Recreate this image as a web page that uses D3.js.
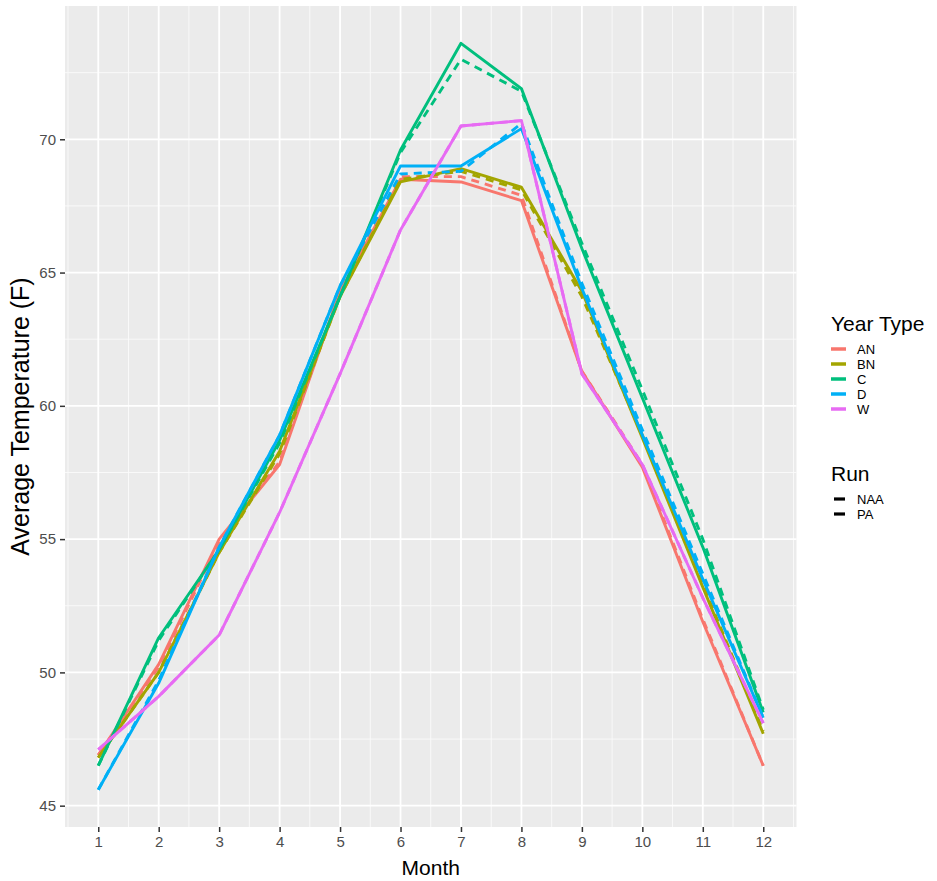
<!DOCTYPE html>
<html>
<head>
<meta charset="utf-8">
<script src="https://cdn.jsdelivr.net/npm/d3@7/dist/d3.min.js"></script>
<style>
  html, body { margin: 0; padding: 0; background: #ffffff; }
  svg { display: block; font-family: "Liberation Sans", Arial, Helvetica, sans-serif; }
</style>
</head>
<body>
<svg id="chart" width="937" height="881"></svg>
<script>
// ---- data ----
const months = [1, 2, 3, 4, 5, 6, 7, 8, 9, 10, 11, 12];
const yearTypes = ["AN", "BN", "C", "D", "W"];
const runs = ["NAA", "PA"];
const yTicks = [45, 50, 55, 60, 65, 70];

const anNAA = [46.9, 50.3, 55.0, 57.8, 64.3, 68.5, 68.4, 67.7, 61.3, 57.7, 51.9, 46.5];
const anPA  = [46.9, 50.2, 54.9, 57.9, 64.3, 68.6, 68.6, 67.9, 61.3, 57.8, 52.0, 46.5];
const bnNAA = [46.8, 50.0, 54.5, 58.3, 64.1, 68.4, 68.9, 68.2, 64.3, 58.8, 53.2, 47.7];
const bnPA  = [46.8, 50.0, 54.5, 58.2, 64.1, 68.5, 68.8, 68.1, 64.1, 58.9, 53.3, 47.8];
const cNAA  = [46.5, 51.3, 54.6, 58.7, 64.1, 69.6, 73.6, 71.9, 65.9, 60.3, 54.7, 48.5];
const cPA   = [46.5, 51.2, 54.6, 58.6, 64.1, 69.5, 73.0, 71.8, 66.1, 60.6, 55.0, 48.6];
const dNAA  = [45.6, 49.6, 54.7, 58.9, 64.5, 69.0, 69.0, 70.4, 64.4, 58.9, 53.5, 48.3];
const dPA   = [45.6, 49.7, 54.7, 58.9, 64.5, 68.7, 68.8, 70.6, 64.6, 59.1, 53.7, 48.3];
const wNAA  = [47.1, 49.1, 51.4, 56.0, 61.2, 66.6, 70.5, 70.7, 61.2, 57.8, 52.8, 48.1];
const wPA   = [47.1, 49.1, 51.4, 56.0, 61.2, 66.6, 70.5, 70.7, 61.2, 57.8, 52.8, 48.1];

const colors = ["#F8766D", "#A3A500", "#00BF7D", "#00B0F6", "#E76BF3"];

const seriesData = [
  { type: "AN", run: "NAA", values: anNAA }, { type: "AN", run: "PA", values: anPA },
  { type: "BN", run: "NAA", values: bnNAA }, { type: "BN", run: "PA", values: bnPA },
  { type: "C",  run: "NAA", values: cNAA  }, { type: "C",  run: "PA", values: cPA  },
  { type: "D",  run: "NAA", values: dNAA  }, { type: "D",  run: "PA", values: dPA  },
  { type: "W",  run: "NAA", values: wNAA  }, { type: "W",  run: "PA", values: wPA  }
];

// ---- layout ----
const svg = d3.select("#chart");
const panel = { left: 65, right: 796.5, top: 6, bottom: 827 };

const allVals = seriesData.flatMap(s => s.values);
const [vmin, vmax] = d3.extent(allVals);
const vpad = (vmax - vmin) * 0.05;
const xpad = (d3.max(months) - d3.min(months)) * 0.05;

const x = d3.scaleLinear()
  .domain([d3.min(months) - xpad, d3.max(months) + xpad])
  .range([panel.left, panel.right]);
const y = d3.scaleLinear()
  .domain([vmin - vpad, vmax + vpad])
  .range([panel.bottom, panel.top]);

const color = d3.scaleOrdinal().domain(yearTypes).range(colors);
const dash = d3.scaleOrdinal().domain(runs).range(["none", "8,6"]);

// panel background
svg.append("rect")
  .attr("x", panel.left).attr("y", panel.top)
  .attr("width", panel.right - panel.left)
  .attr("height", panel.bottom - panel.top)
  .attr("fill", "#EBEBEB");

// minor grid
const xMinor = d3.range(0.5, 13, 1).filter(v => v >= x.domain()[0] && v <= x.domain()[1]);
const yMinor = d3.range(42.5, 80, 5).filter(v => v >= y.domain()[0] && v <= y.domain()[1]);
const grid = svg.append("g");
grid.selectAll(".xminor").data(xMinor).join("line")
  .attr("x1", d => x(d)).attr("x2", d => x(d))
  .attr("y1", panel.top).attr("y2", panel.bottom)
  .attr("stroke", "#fafafa").attr("stroke-width", 0.9);
grid.selectAll(".yminor").data(yMinor).join("line")
  .attr("y1", d => y(d)).attr("y2", d => y(d))
  .attr("x1", panel.left).attr("x2", panel.right)
  .attr("stroke", "#fafafa").attr("stroke-width", 0.9);
// major grid
grid.selectAll(".xmajor").data(months).join("line")
  .attr("x1", d => x(d)).attr("x2", d => x(d))
  .attr("y1", panel.top).attr("y2", panel.bottom)
  .attr("stroke", "#ffffff").attr("stroke-width", 1.8);
grid.selectAll(".ymajor").data(yTicks).join("line")
  .attr("y1", d => y(d)).attr("y2", d => y(d))
  .attr("x1", panel.left).attr("x2", panel.right)
  .attr("stroke", "#ffffff").attr("stroke-width", 1.8);

// lines
const line = d3.line().x((d, i) => x(months[i])).y(d => y(d));
svg.append("g").selectAll("path").data(seriesData).join("path")
  .attr("d", d => line(d.values))
  .attr("fill", "none")
  .attr("stroke", d => color(d.type))
  .attr("stroke-width", 2.9)
  .attr("stroke-dasharray", d => dash(d.run))
  .attr("stroke-linejoin", "round");

// axes
const xAxis = svg.append("g")
  .attr("transform", `translate(0,${panel.bottom})`)
  .call(d3.axisBottom(x).tickValues(months).tickSize(5).tickPadding(4).tickFormat(d3.format("d")));
const yAxis = svg.append("g")
  .attr("transform", `translate(${panel.left},0)`)
  .call(d3.axisLeft(y).tickValues(yTicks).tickSize(5).tickPadding(4).tickFormat(d3.format("d")));
[xAxis, yAxis].forEach(a => {
  a.select(".domain").remove();
  a.selectAll(".tick line").attr("stroke", "#333333").attr("stroke-width", 1.5);
  a.selectAll(".tick text").attr("fill", "#4D4D4D").style("font-size", "15px")
    .style("font-family", "'Liberation Sans', Arial, sans-serif");
});

// axis titles
svg.append("text")
  .attr("x", (panel.left + panel.right) / 2).attr("y", 875)
  .attr("text-anchor", "middle").style("font-size", "21px").attr("fill", "#000")
  .text("Month");
svg.append("text")
  .attr("transform", `translate(29,${(panel.top + panel.bottom) / 2}) rotate(-90)`)
  .attr("text-anchor", "middle").style("font-size", "25px").attr("fill", "#000")
  .text("Average Temperature (F)");

// legends
const leg = svg.append("g");
leg.append("text").attr("x", 831).attr("y", 331).style("font-size", "21px").text("Year Type");
const legY = d3.scalePoint().domain(yearTypes).range([349, 409]);
yearTypes.forEach(t => {
  leg.append("line").attr("x1", 831).attr("x2", 846)
    .attr("y1", legY(t)).attr("y2", legY(t))
    .attr("stroke", color(t)).attr("stroke-width", 3.5);
  leg.append("text").attr("x", 857).attr("y", legY(t) + 5)
    .style("font-size", "13px").text(t);
});
leg.append("text").attr("x", 831).attr("y", 481).style("font-size", "21px").text("Run");
const runY = d3.scalePoint().domain(runs).range([499, 514]);
runs.forEach(r => {
  leg.append("line").attr("x1", 834).attr("x2", 845)
    .attr("y1", runY(r)).attr("y2", runY(r))
    .attr("stroke", "#000").attr("stroke-width", 3.2);
  leg.append("text").attr("x", 857).attr("y", runY(r) + 5)
    .style("font-size", "13px").text(r);
});
</script>
</body>
</html>
